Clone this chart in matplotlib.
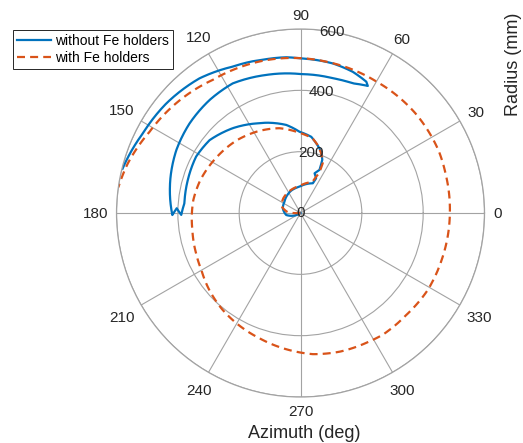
import numpy as np
import matplotlib
matplotlib.use("Agg")
import matplotlib.pyplot as plt

plt.rcParams['font.family'] = ['Liberation Sans', 'DejaVu Sans']

# Trajectories: azimuth in degrees (unwrapped), radius in mm
theta_without = [215, 188, 165, 145, 113, 92, 67.5, 65.7, 70.6, 66.2, 67.7, 71.3,
                 77.3, 82, 90.7, 99.2, 110.8, 114.6, 128.6, 141.3, 151.6, 163.7,
                 175.2, 180.9, 177.8, 180.9, 174.3, 164.4, 153.1, 141.1, 128.8,
                 117.6, 104, 89.7, 76.5, 68, 62.1, 63.4, 69.7, 77.8, 89.7, 95.2,
                 102.6, 114.8, 126.9, 140.8, 153.2, 166]
r_without = [0, 47, 60, 64, 79, 86, 105, 124, 137, 153, 187, 211,
             233, 251, 265, 291, 315, 322, 354, 380, 387, 383,
             380, 389, 404, 418, 427, 440, 454, 465, 473,
             477, 464, 453, 452, 456, 469, 479, 491, 499, 504, 510,
             514, 526, 549, 565, 576, 598]

theta_with = [185, 176, 160, 139, 120, 92, 69, 65, 66, 71, 76, 81, 91, 104, 118,
              131, 147, 162, 173, 189, 201, 210, 220, 231, 240, 252, 265, 275,
              286, 298, 304, 316, 329, 342, 360, 375, 384, 401, 420, 439, 450,
              463, 475, 483.4, 498.6, 511.7, 524, 532]
r_with = [0, 42, 66, 74, 79, 88, 108, 144, 178, 206, 229, 247, 262, 285, 301,
          315, 329, 344, 352, 357, 365, 373, 389, 405, 416, 430, 448, 462,
          470, 475, 479, 479, 485, 485, 487, 490, 494, 496, 495, 500, 505,
          511, 516, 520, 541, 559, 586, 600]

series_labels = ["without Fe holders", "with Fe holders"]
theta_ticks = list(range(0, 360, 30))
r_ticks = [0, 200, 400, 600]
r_max = 600

blue = "#0072BD"
orange = "#D95319"
grid_col = "#a3a3a3"
text_col = "#262626"
dpi = 100
tick_fs = 11

fig = plt.figure(figsize=(5.23, 4.43), dpi=dpi)
ax = fig.add_axes([0.2228, 0.1038, 0.7036, 0.8307], projection='polar')

line_a, = ax.plot(np.deg2rad(theta_without), r_without, color=blue, lw=1.6,
                  label=series_labels[0], solid_joinstyle='round')
line_b, = ax.plot(np.deg2rad(theta_with), r_with, color=orange, lw=1.6,
                  dashes=(3.6, 2.3), label=series_labels[1])
# follow the polar grid between samples (spiral segments instead of chords)
for ln in (line_a, line_b):
    ln.get_path()._interpolation_steps = 40

ax.set_ylim(0, r_max)
ax.set_thetagrids(theta_ticks, labels=[""] * len(theta_ticks))
ax.set_rgrids(r_ticks[1:], labels=[""] * (len(r_ticks) - 1))
ax.grid(True, color=grid_col, lw=0.8)
ax.spines['polar'].set_color(grid_col)
ax.spines['polar'].set_linewidth(0.9)
ax.tick_params(length=0)

# Azimuth labels just outside the rim
fs_px = tick_fs * dpi / 72
gap = 8.5
for t in theta_ticks:
    lab = str(t)
    w = len(lab) * 0.556 * fs_px
    h = 0.716 * fs_px
    c, s = np.cos(np.deg2rad(t)), np.sin(np.deg2rad(t))
    d = gap + abs(c) * w / 2 + abs(s) * h / 2
    ax.annotate(lab, xy=(np.deg2rad(t), r_max),
                xytext=(c * d * 72 / dpi, s * d * 72 / dpi - 1.0),
                textcoords='offset points', ha='center', va='center',
                fontsize=tick_fs, color=text_col, annotation_clip=False)

# Radius labels along the 80 degree spoke
for rv in r_ticks:
    ax.text(np.deg2rad(80), rv, str(rv), ha='center', va='center',
            fontsize=tick_fs, color=text_col, zorder=5)

fig.text(304 / 523, 1 - 433 / 443, "Azimuth (deg)", ha='center', va='center',
         fontsize=13, color=text_col)
fig.text(513 / 523, 1 - 64 / 443, "Radius (mm)", ha='center', va='center',
         rotation=90, fontsize=13, color=text_col)

leg = fig.legend(loc='upper left', bbox_to_anchor=(13 / 523, 1 - 30 / 443),
                 bbox_transform=fig.transFigure, borderaxespad=0,
                 fontsize=10, frameon=True, fancybox=False, framealpha=1,
                 edgecolor=text_col, handlelength=2.45, handletextpad=0.25,
                 labelspacing=0.2, borderpad=0.3)
leg.get_frame().set_linewidth(0.7)

fig.savefig("out.png", dpi=dpi)
